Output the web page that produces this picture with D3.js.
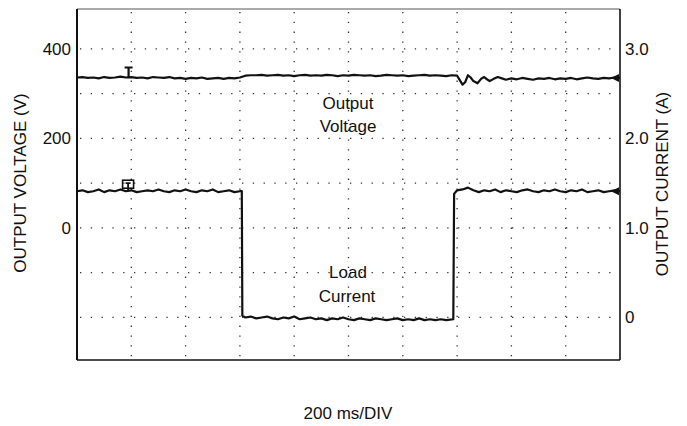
<!DOCTYPE html>
<html>
<head>
<meta charset="utf-8">
<title>Output Voltage / Load Current</title>
<script src="https://cdnjs.cloudflare.com/ajax/libs/d3/7.8.5/d3.min.js"></script>
<style>
  body { margin: 0; background: #fff; }
  svg text { font-family: "Liberation Sans", Arial, sans-serif; font-size: 17px; fill: #111; }
</style>
</head>
<body>
<div id="chart"></div>
<script>
// time in ms (200 ms/DIV, 10 divisions)
var voltTime = [0,20,40,60,80,100,120,140,160,180,200,220,240,260,280,300,320,340,360,380,400,420,440,460,480,500,520,540,560,580,600,
  620,640,660,680,700,720,740,760,780,800,820,840,860,880,900,920,940,960,980,1000,1020,1040,1060,1080,1100,1120,1140,1160,1180,1200,
  1220,1240,1260,1280,1300,1320,1340,1360,1380,1400,1410,1420,1430,1440,1450,1460,1475,1490,1500,1510,1520,1535,1550,1565,1580,
  1600,1620,1640,1660,1680,1700,1720,1740,1760,1780,1800,1820,1840,1860,1880,1900,1920,1940,1960,1980,2000];
var voltValue = [336,337,335,336,334,337,335,336,338,336,337,335,336,334,337,336,335,337,334,335,333,335,334,336,333,334,335,333,335,334,336,
  340,341,341,342,340,341,342,340,341,339,341,342,340,341,340,342,341,339,341,340,342,341,340,341,339,340,342,341,340,341,
  339,340,341,342,340,341,340,339,341,340,330,320,326,341,336,328,323,334,337,332,328,333,337,334,331,
  334,332,335,333,331,334,333,335,332,334,333,335,332,334,336,334,333,335,334,336,335];

var currTime = [0,20,40,60,80,100,120,140,160,180,200,220,240,260,280,300,320,340,360,380,400,420,440,460,480,500,520,540,560,580,600,607,
  609,620,640,660,680,700,720,740,760,780,800,820,840,860,880,900,920,940,960,980,1000,1020,1040,1060,1080,1100,1120,1140,1160,1180,1200,
  1220,1240,1260,1280,1300,1320,1340,1360,1386,
  1389,1400,1420,1440,1460,1480,1500,1520,1540,1560,1580,1600,1620,1640,1660,1680,1700,1720,1740,1760,1780,1800,1820,1840,1860,1880,
  1900,1920,1940,1960,1980,2000];
var currValue = [1.41,1.42,1.40,1.41,1.43,1.40,1.42,1.41,1.43,1.41,1.42,1.40,1.41,1.42,1.41,1.43,1.41,1.40,1.42,1.41,1.43,1.41,1.40,1.42,1.41,1.43,1.40,1.41,1.42,1.40,1.41,1.41,
  0.02,0.0,0.01,-0.01,0.0,0.01,-0.01,-0.02,0.0,-0.01,0.01,-0.02,-0.01,0.0,-0.02,-0.01,-0.03,-0.01,-0.02,0.0,-0.02,-0.03,-0.01,-0.02,-0.03,-0.01,-0.02,-0.03,-0.02,-0.01,-0.03,
  -0.02,-0.03,-0.01,-0.03,-0.02,-0.03,-0.02,-0.03,-0.02,
  1.38,1.42,1.43,1.45,1.42,1.40,1.42,1.41,1.43,1.40,1.42,1.41,1.40,1.42,1.43,1.41,1.40,1.42,1.41,1.43,1.41,1.40,1.42,1.41,1.43,1.40,
  1.41,1.42,1.40,1.41,1.42,1.41];

var voltTicks = [400, 200, 0];
var currTicks = [3, 2, 1, 0];
var voltGrid = [400, 300, 200, 100, 0, -100, -200];
var timeGrid = [200, 400, 600, 800, 1000, 1200, 1400, 1600, 1800];
var triggerTime = 190;

var width = 687, height = 426;
var plotL = 77, plotR = 620, plotT = 9, plotB = 360;

var svg = d3.select("#chart").append("svg")
  .attr("width", width).attr("height", height);

var x = d3.scaleLinear().domain([0, 2000]).range([plotL, plotR]);
var yV = d3.scaleLinear().domain([-295, 489]).range([plotB, plotT]);
// 1 A shares 2 divisions with 200 V, 0 A sits on the -200 V line
var yA = d3.scaleLinear().domain([-0.475, 3.445]).range([plotB, plotT]);

// dotted graticule
svg.append("g").selectAll("line").data(voltGrid).enter().append("line")
  .attr("x1", plotL + 3).attr("x2", plotR - 3)
  .attr("y1", function(d){ return yV(d); }).attr("y2", function(d){ return yV(d); })
  .attr("stroke", "#333").attr("stroke-width", 1.3).attr("stroke-dasharray", "1.3 9.5");
svg.append("g").selectAll("line").data(timeGrid).enter().append("line")
  .attr("x1", function(d){ return x(d); }).attr("x2", function(d){ return x(d); })
  .attr("y1", plotT + 3).attr("y2", plotB - 2)
  .attr("stroke", "#333").attr("stroke-width", 1.3).attr("stroke-dasharray", "1.3 8.5");

// frame
svg.append("line").attr("x1", plotL).attr("x2", plotR).attr("y1", plotT).attr("y2", plotT)
  .attr("stroke", "#555").attr("stroke-width", 1);
svg.append("line").attr("x1", plotL).attr("x2", plotR).attr("y1", plotB).attr("y2", plotB)
  .attr("stroke", "#111").attr("stroke-width", 1.6);
svg.append("line").attr("x1", plotL).attr("x2", plotL).attr("y1", plotT).attr("y2", plotB)
  .attr("stroke", "#111").attr("stroke-width", 2);
svg.append("line").attr("x1", plotR).attr("x2", plotR).attr("y1", plotT).attr("y2", plotB)
  .attr("stroke", "#111").attr("stroke-width", 1.6);

// traces
var vLine = d3.line().x(function(d, i){ return x(voltTime[i]); }).y(function(d){ return yV(d); });
var aLine = d3.line().x(function(d, i){ return x(currTime[i]); }).y(function(d){ return yA(d); });
svg.append("path").attr("d", vLine(voltValue))
  .attr("fill", "none").attr("stroke", "#111").attr("stroke-width", 2.2).attr("stroke-linejoin", "round");
svg.append("path").attr("d", aLine(currValue))
  .attr("fill", "none").attr("stroke", "#111").attr("stroke-width", 2.2).attr("stroke-linejoin", "round");

// channel markers at the trigger point
var mx = x(triggerTime), mvy = yV(voltValue[voltTime.indexOf(180)]);
svg.append("path")
  .attr("d", "M" + (mx - 4) + "," + (mvy - 10) + "H" + (mx + 4) + "M" + mx + "," + (mvy - 10) + "V" + mvy)
  .attr("stroke", "#111").attr("stroke-width", 2.2).attr("fill", "none");
var may = yA(currValue[currTime.indexOf(180)]);
svg.append("rect").attr("x", mx - 6).attr("y", may - 11).attr("width", 11).attr("height", 8)
  .attr("fill", "none").attr("stroke", "#111").attr("stroke-width", 1.6);
svg.append("path")
  .attr("d", "M" + (mx - 3) + "," + (may - 8) + "H" + (mx + 2) + "M" + (mx - 0.5) + "," + (may - 8) + "V" + may)
  .attr("stroke", "#111").attr("stroke-width", 1.8).attr("fill", "none");

// reference arrows at right edge
[yV(voltValue[voltValue.length - 1]), yA(currValue[currValue.length - 1])].forEach(function(yy){
  svg.append("path")
    .attr("d", "M" + (plotR - 9) + "," + yy + "L" + (plotR - 1) + "," + (yy - 4) + "L" + (plotR - 1) + "," + (yy + 4) + "Z")
    .attr("fill", "#111");
});

// axes
var axL = svg.append("g").attr("transform", "translate(" + plotL + ",0)")
  .call(d3.axisLeft(yV).tickValues(voltTicks).tickSize(0).tickPadding(6));
var axR = svg.append("g").attr("transform", "translate(" + plotR + ",0)")
  .call(d3.axisRight(yA).tickValues(currTicks).tickSize(0).tickPadding(5)
    .tickFormat(function(d){ return d === 0 ? "0" : d.toFixed(1); }));
[axL, axR].forEach(function(g){
  g.select(".domain").remove();
  g.selectAll("text").attr("fill", "#111");
  g.attr("font-size", null).attr("font-family", null);
});

// titles
svg.append("text").attr("transform", "translate(20,183) rotate(-90)")
  .attr("text-anchor", "middle").attr("dy", "0.35em").text("OUTPUT VOLTAGE (V)");
svg.append("text").attr("transform", "translate(662,184) rotate(-90)")
  .attr("text-anchor", "middle").attr("dy", "0.35em").text("OUTPUT CURRENT (A)");
svg.append("text").attr("x", 348).attr("y", 419).attr("text-anchor", "middle").text("200 ms/DIV");

// annotations
svg.append("text").attr("x", 348).attr("y", 109).attr("text-anchor", "middle").text("Output");
svg.append("text").attr("x", 348).attr("y", 132).attr("text-anchor", "middle").text("Voltage");
svg.append("text").attr("x", 348).attr("y", 278).attr("text-anchor", "middle").text("Load");
svg.append("text").attr("x", 347).attr("y", 302).attr("text-anchor", "middle").text("Current");
</script>
</body>
</html>
